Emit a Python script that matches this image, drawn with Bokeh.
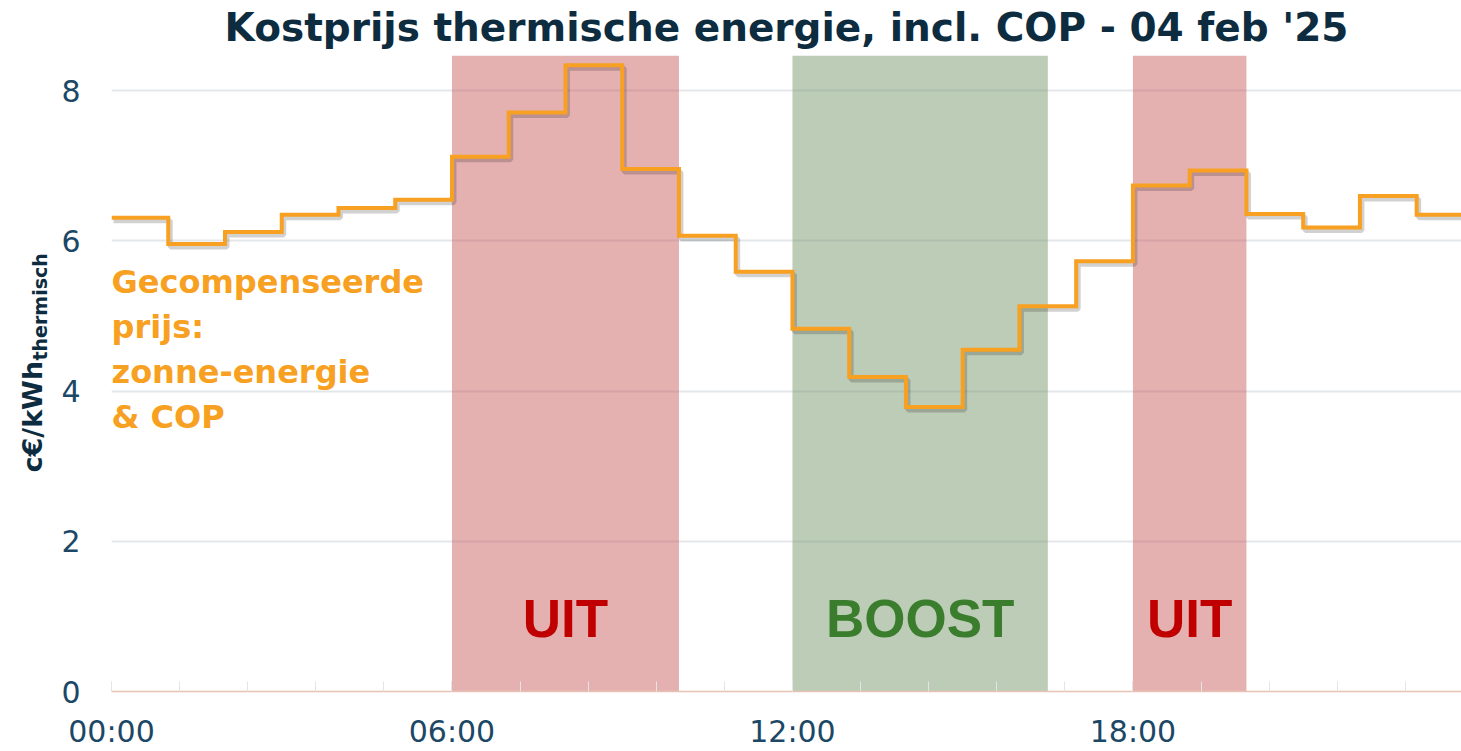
import numpy as np
from bokeh.plotting import figure
from bokeh.models import (ColumnDataSource, Label, BoxAnnotation, FixedTicker,
                          Range1d, Title)
from bokeh.transform import dodge
from bokeh.embed import file_html
from bokeh.resources import INLINE

# ---------------- data ----------------
hours = list(range(24))
prices = [6.31, 5.96, 6.12, 6.35, 6.44, 6.55, 7.12, 7.71, 8.34, 6.96, 6.07, 5.59,
          4.83, 4.19, 3.79, 4.55, 5.13, 5.73, 6.74, 6.94, 6.36, 6.18, 6.60, 6.35]

band_start = [6, 12, 18]
band_end = [10, 16.5, 20]
band_labels = ["UIT", "BOOST", "UIT"]
band_kind = ["uit", "boost", "uit"]

x_ticks = [0, 6, 12, 18]
x_tick_labels = ["00:00", "06:00", "12:00", "18:00"]
y_ticks = [0, 2, 4, 6, 8]

title_text = "Kostprijs thermische energie, incl. COP - 04 feb '25"
y_label_main = "c€/kWh"
y_label_sub = "thermisch"
note_lines = ["Gecompenseerde", "prijs:", "zonne-energie", "& COP"]

# ---------------- styles ----------------
ORANGE = "#f7a021"
NAVY = "#0d2c40"
TICK_COL = "#1c4866"
fill_colors = {"uit": "#c96262", "boost": "#7a9a70"}
text_colors = {"uit": "#c00000", "boost": "#3a7d2c"}

X_END = 23.79
Y_END = 8.47

# step line closes the last hour
xs = hours + [hours[-1] + 1]
ys = prices + [prices[-1]]
src = ColumnDataSource(dict(x=xs, y=ys))

p = figure(width=1461, height=751,
           x_range=Range1d(0, X_END), y_range=Range1d(0, Y_END),
           output_backend="svg", toolbar_location=None,
           min_border_left=111, min_border_right=0,
           min_border_top=55, min_border_bottom=0,
           outline_line_color=None, background_fill_color="white",
           border_fill_color="white")

# title
p.title = Title(text=title_text, align="center", vertical_align="top",
                text_font="DejaVu Sans", text_font_style="bold",
                text_font_size="39px", text_color=NAVY, standoff=8)

# grid
p.xgrid.visible = False
p.ygrid.ticker = FixedTicker(ticks=y_ticks)
p.ygrid.grid_line_color = "#e3e7ea"
p.ygrid.grid_line_width = 2

# y axis
p.yaxis.ticker = FixedTicker(ticks=y_ticks)
p.yaxis.axis_line_color = None
p.yaxis.major_tick_line_color = None
p.yaxis.minor_tick_line_color = None
p.yaxis.major_tick_out = 0
p.yaxis.major_tick_in = 0
p.yaxis.major_label_standoff = 31
p.yaxis.major_label_text_font = "DejaVu Sans"
p.yaxis.major_label_text_font_size = "30px"
p.yaxis.major_label_text_color = TICK_COL

# blank spacer between the tick labels and the axis title
p.add_layout(Title(text="\u00a0", align="center", vertical_align="middle",
                   standoff=6, text_font="DejaVu Sans", text_font_size="10px",
                   text_color="white"), "left")

# y axis title: main part and subscript, as side titles
p.add_layout(Title(text=y_label_sub, align="left", vertical_align="middle",
                   offset=331, standoff=-24, text_font="DejaVu Sans",
                   text_font_style="bold", text_font_size="19px",
                   text_color=NAVY), "left")
p.add_layout(Title(text=y_label_main, align="left", vertical_align="middle",
                   offset=219, standoff=-19, text_font="DejaVu Sans",
                   text_font_style="bold", text_font_size="27px",
                   text_color=NAVY), "left")

# x axis
p.xaxis.ticker = FixedTicker(ticks=x_ticks, minor_ticks=list(np.arange(0, 24, 1.2)))
p.xaxis.major_label_overrides = {t: l for t, l in zip(x_ticks, x_tick_labels)}
p.xaxis.axis_line_color = "#e6c3b5"
p.xaxis.axis_line_width = 1.5
p.xaxis.major_tick_line_color = "#e4e4e4"
p.xaxis.minor_tick_line_color = "#e4e4e4"
p.xaxis.major_tick_in = 10
p.xaxis.major_tick_out = 0
p.xaxis.minor_tick_in = 10
p.xaxis.minor_tick_out = 0
p.xaxis.major_label_standoff = 22
p.xaxis.major_label_text_font = "DejaVu Sans"
p.xaxis.major_label_text_font_size = "30px"
p.xaxis.major_label_text_color = TICK_COL

# bands
for s, e, lab, kind in zip(band_start, band_end, band_labels, band_kind):
    p.add_layout(BoxAnnotation(left=s, right=e, fill_color=fill_colors[kind],
                               fill_alpha=0.5, line_color=None, level="underlay"))
    p.add_layout(Label(x=(s + e) / 2, y=0.97, text=lab, text_align="center",
                       text_baseline="alphabetic", text_font="Liberation Sans",
                       text_font_style="bold", text_font_size="53px",
                       text_color=text_colors[kind]))

# price step line with soft shadow
p.step(x=dodge("x", 0.035), y=dodge("y", -0.04), source=src, mode="after",
       line_color="#000000", line_alpha=0.18, line_width=5)
p.step(x="x", y="y", source=src, mode="after", line_color=ORANGE,
       line_width=4, line_join="miter")

# orange note
for i, line in enumerate(note_lines):
    p.add_layout(Label(x=0, y=5.46, y_offset=-45 * i, text=line,
                       text_align="left", text_baseline="alphabetic",
                       text_font="DejaVu Sans", text_font_style="bold",
                       text_font_size="32px", text_color=ORANGE))

open("out.html", "w").write(file_html(p, INLINE))
